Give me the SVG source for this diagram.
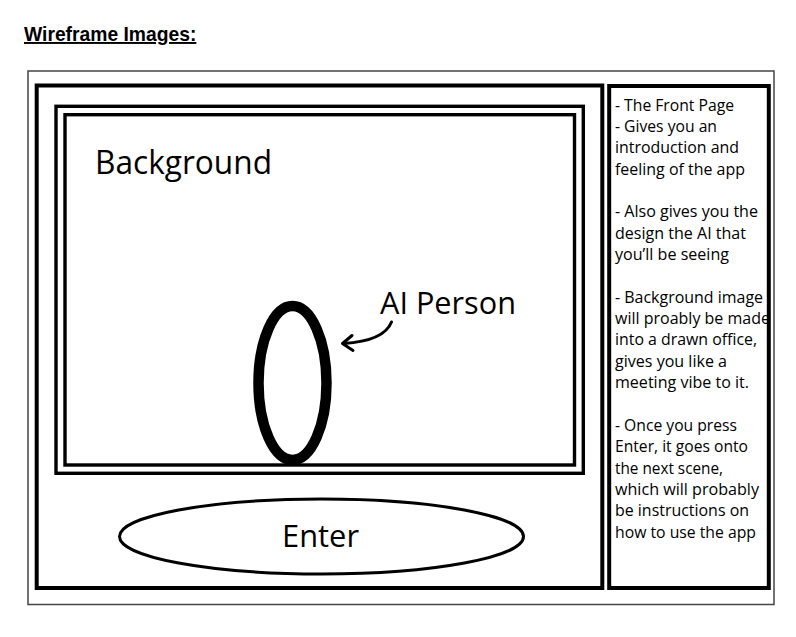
<svg xmlns="http://www.w3.org/2000/svg" width="796" height="637" viewBox="0 0 796 637">
<style>
.box{fill:none;stroke:#000;stroke-width:4}
.inner{fill:none;stroke:#000;stroke-width:3.4}
.hand{font-family:"Open Sans","Noto Sans",sans-serif;fill:#000}
.note{font-family:"Open Sans","Noto Sans",sans-serif;font-size:16.5px;fill:#000}
</style>
<rect width="796" height="637" fill="#fff"/>
<text x="24" y="41" font-family="Liberation Sans, Arial, sans-serif" font-weight="bold" font-size="19.3" text-decoration="underline" fill="#000">Wireframe Images:</text>
<g id="frame">
<rect x="28" y="71" width="746" height="533.5" fill="none" stroke="#444" stroke-width="1.5"/>
</g>
<g id="main-screen">
<rect class="box" x="36.7" y="85.5" width="565.6" height="502.5"/>
</g>
<g id="background-area">
<rect class="inner" x="56" y="106.3" width="527.3" height="367"/>
<rect class="inner" x="65" y="114.7" width="509.5" height="350.3"/>
<text class="hand" x="95" y="174" font-size="32" textLength="177" lengthAdjust="spacingAndGlyphs">Background</text>
</g>
<g id="ai-person">
<ellipse cx="292.5" cy="383" rx="34" ry="77" fill="none" stroke="#000" stroke-width="10.5"/>
<text class="hand" x="380" y="314" font-size="31" textLength="136" lengthAdjust="spacingAndGlyphs">AI Person</text>
</g>
<g id="enter-button">
<ellipse cx="321.5" cy="536.5" rx="202" ry="37.5" fill="none" stroke="#000" stroke-width="3"/>
<text class="hand" x="282" y="547" font-size="31" textLength="77" lengthAdjust="spacingAndGlyphs">Enter</text>
</g>
<g id="notes-panel">
<rect class="box" x="609.2" y="86" width="159.6" height="502"/>
<text class="note" x="615" y="110.5" textLength="119" lengthAdjust="spacingAndGlyphs">- The Front Page</text>
<text class="note" x="615" y="131.9" textLength="102" lengthAdjust="spacingAndGlyphs">- Gives you an</text>
<text class="note" x="615" y="153.2" textLength="124" lengthAdjust="spacingAndGlyphs">introduction and</text>
<text class="note" x="615" y="174.5" textLength="130" lengthAdjust="spacingAndGlyphs">feeling of the app</text>
<text class="note" x="615" y="217.3" textLength="143" lengthAdjust="spacingAndGlyphs">- Also gives you the</text>
<text class="note" x="615" y="238.6" textLength="131" lengthAdjust="spacingAndGlyphs">design the AI that</text>
<text class="note" x="615" y="260" textLength="114" lengthAdjust="spacingAndGlyphs">you’ll be seeing</text>
<text class="note" x="615" y="302.7" textLength="148" lengthAdjust="spacingAndGlyphs">- Background image</text>
<text class="note" x="615" y="324" textLength="155" lengthAdjust="spacingAndGlyphs">will proably be made</text>
<text class="note" x="615" y="345.4" textLength="142" lengthAdjust="spacingAndGlyphs">into a drawn office,</text>
<text class="note" x="615" y="366.7" textLength="112" lengthAdjust="spacingAndGlyphs">gives you like a</text>
<text class="note" x="615" y="388.1" textLength="134" lengthAdjust="spacingAndGlyphs">meeting vibe to it.</text>
<text class="note" x="615" y="430.8" textLength="122" lengthAdjust="spacingAndGlyphs">- Once you press</text>
<text class="note" x="615" y="452.1" textLength="133" lengthAdjust="spacingAndGlyphs">Enter, it goes onto</text>
<text class="note" x="615" y="473.5" textLength="108" lengthAdjust="spacingAndGlyphs">the next scene,</text>
<text class="note" x="615" y="494.8" textLength="144" lengthAdjust="spacingAndGlyphs">which will probably</text>
<text class="note" x="615" y="516.2" textLength="134" lengthAdjust="spacingAndGlyphs">be instructions on</text>
<text class="note" x="615" y="537.5" textLength="141" lengthAdjust="spacingAndGlyphs">how to use the app</text>
</g>
<g id="connectors" fill="none" stroke="#000" stroke-width="3" stroke-linecap="round" stroke-linejoin="round">
<path d="M391.5,322 Q384,341 343.5,343.5"/>
<polyline points="352,335.5 342.5,343.5 353,350.5"/>
</g>
</svg>
